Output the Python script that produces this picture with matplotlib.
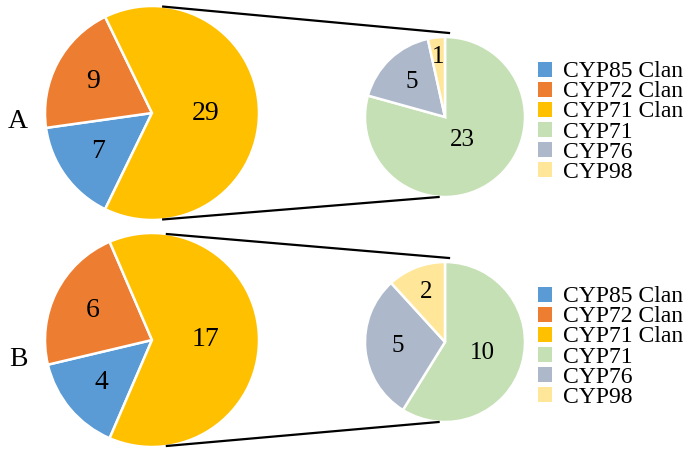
import numpy as np
import matplotlib
matplotlib.use('Agg')
import matplotlib.pyplot as plt
from matplotlib.patches import Patch
from matplotlib.lines import Line2D

plt.rcParams['font.family'] = ['Liberation Serif', 'DejaVu Serif']

clans = ['CYP85 Clan', 'CYP72 Clan', 'CYP71 Clan']
families = ['CYP71', 'CYP76', 'CYP98']
clan_a = [7, 9, 29]
fam_a = [23, 5, 1]
clan_b = [4, 6, 17]
fam_b = [10, 5, 2]

clan_colors = ['#5B9BD5', '#ED7D31', '#FFC000']
fam_colors = ['#C5E0B4', '#ADB9CA', '#FFE699']

W, H = 697, 457
fig = plt.figure(figsize=(W / 100, H / 100), dpi=100)


def px_axes(cx, cy, r):
    ax = fig.add_axes([(cx - r) / W, (H - cy - r) / H, 2 * r / W, 2 * r / H])
    return ax


def draw_pie(ax, vals, colors, start, dists, fs):
    wedges, _ = ax.pie(vals, colors=colors, startangle=start, counterclock=False,
                       wedgeprops=dict(edgecolor='white', linewidth=1.8))
    for w, v, d in zip(wedges, vals, dists):
        ang = np.deg2rad((w.theta1 + w.theta2) / 2)
        ax.text(d * np.cos(ang), d * np.sin(ang), str(v), ha='center', va='center',
                fontsize=fs, color='black')
    ax.set_xlim(-1, 1)
    ax.set_ylim(-1, 1)
    ax.set_aspect('equal')
    ax.axis('off')


def connect(ax1, ax2, ang):
    # lines from the split slice of the big pie to top/bottom of the small pie
    to_fig = fig.transFigure.inverted()
    for sgn, end in [(1, (0.05, 1.05)), (-1, (-0.08, -1.0))]:
        a = np.deg2rad(sgn * ang)
        p1 = to_fig.transform(ax1.transData.transform((np.cos(a), np.sin(a))))
        p2 = to_fig.transform(ax2.transData.transform(end))
        fig.add_artist(Line2D([p1[0], p2[0]], [p1[1], p2[1]], transform=fig.transFigure,
                              color='black', lw=1.6))


rows = [
    (113, 117, clan_a, fam_a, 'A', 121, 84, [0.36, 0.6, 0.75]),
    (340, 342, clan_b, fam_b, 'B', 359, 82, [0.48, 0.59, 0.67]),
]

for cy_big, cy_small, cv, fv, tag, ty, ang, fd in rows:
    ax_big = px_axes(152, cy_big, 107)
    ax_small = px_axes(445, cy_small, 80)
    half = cv[2] / sum(cv) * 180
    draw_pie(ax_big, cv, clan_colors, 360 - half, [0.62, 0.62, 0.5], 20)
    draw_pie(ax_small, fv, fam_colors, 90, fd, 18)
    connect(ax_big, ax_small, ang)
    fig.text(18 / W, 1 - ty / H, tag, ha='center', va='center', fontsize=20)

    handles = [Patch(facecolor=c, edgecolor='none') for c in clan_colors + fam_colors]
    fig.legend(handles, clans + families, loc='center left',
               bbox_to_anchor=(538 / W, 1 - (cy_small + 5) / H),
               frameon=False, fontsize=17, borderpad=0, borderaxespad=0,
               handlelength=0.6, handleheight=0.6, handletextpad=0.45,
               labelspacing=-0.04)

fig.savefig('out.png', dpi=100)
